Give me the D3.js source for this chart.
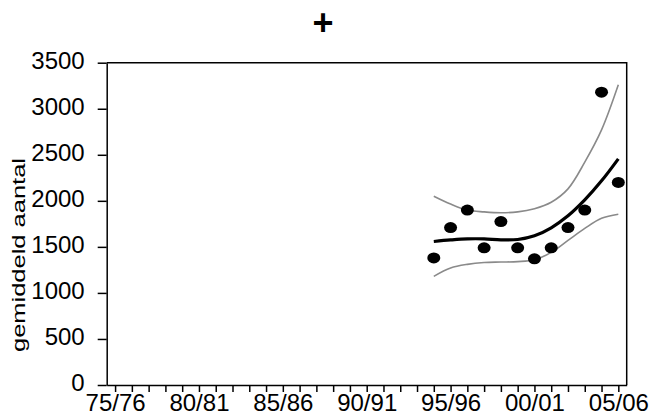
<!DOCTYPE html>
<html>
<head>
<meta charset="utf-8">
<script src="https://cdn.jsdelivr.net/npm/d3@7"></script>
<style>
  body { margin: 0; background: #fff; }
  text { font-family: "Liberation Sans", Arial, sans-serif; fill: #000; }
</style>
</head>
<body>
<div class="canvas"></div>
<script>
// seasons on the x axis (one tick per season, label every 5)
const seasons = ['75/76','76/77','77/78','78/79','79/80','80/81','81/82','82/83','83/84','84/85',
    '85/86','86/87','87/88','88/89','89/90','90/91','91/92','92/93','93/94','94/95',
    '95/96','96/97','97/98','98/99','99/00','00/01','01/02','02/03','03/04','04/05','05/06'];
const labelSeasons = ['75/76','80/81','85/86','90/91','95/96','00/01','05/06'];
const yTicks = [0, 500, 1000, 1500, 2000, 2500, 3000, 3500];

// observed seasons and values
const obsSeasons = ['94/95','95/96','96/97','97/98','98/99','99/00','00/01','01/02','02/03','03/04','04/05','05/06'];
const observed = [1380, 1710, 1900, 1490, 1775, 1490, 1370, 1490, 1710, 1900, 3180, 2200];
// fitted trend and confidence band
const trend = [1558, 1575, 1587, 1587, 1576, 1580, 1620, 1707, 1837, 2010, 2217, 2456];
const upper = [2050, 1965, 1900, 1880, 1870, 1880, 1915, 1985, 2130, 2420, 2770, 3260];
const lower = [1180, 1270, 1310, 1330, 1335, 1340, 1360, 1440, 1570, 1700, 1810, 1855];

const width = 655, height = 416;
const margin = {top: 62.7, right: 28.3, bottom: 31, left: 106.7};

const svg = d3.select('.canvas')
    .append('svg')
    .attr('width', width)
    .attr('height', height);

const x = d3.scalePoint()
    .domain(seasons)
    .range([margin.left, width - margin.right])
    .padding(0.5);

const y = d3.scaleLinear()
    .domain([0, 3500])
    .range([height - margin.bottom, margin.top]);

// frame (top + right)
svg.append('path')
    .attr('d', `M${margin.left},${margin.top}H${width - margin.right}V${height - margin.bottom}`)
    .attr('fill', 'none')
    .attr('stroke', '#000')
    .attr('stroke-width', 1.5);

// y axis
const yAxis = svg.append('g')
    .attr('transform', `translate(${margin.left},0)`)
    .call(d3.axisLeft(y).tickValues(yTicks).tickFormat(d3.format('d'))
        .tickSize(9).tickPadding(13).tickSizeOuter(0));
yAxis.select('.domain').attr('stroke-width', 1.5);
yAxis.selectAll('.tick line').attr('stroke-width', 1.5);
yAxis.selectAll('.tick text')
    .attr('font-size', 24)
    .attr('dy', 5.5)
    .attr('font-family', '"Liberation Sans", Arial, sans-serif');

// x axis
const xAxis = svg.append('g')
    .attr('transform', `translate(0,${height - margin.bottom})`)
    .call(d3.axisBottom(x).tickSize(7).tickPadding(1).tickSizeOuter(0)
        .tickFormat(d => labelSeasons.includes(d) ? d : ''));
xAxis.select('.domain').attr('stroke-width', 1.5);
xAxis.selectAll('.tick line').attr('stroke-width', 1.5);
xAxis.selectAll('.tick text')
    .attr('font-size', 24)
    .attr('dy', '0.74em')
    .attr('font-family', '"Liberation Sans", Arial, sans-serif');

// y title
svg.append('text')
    .attr('transform', 'translate(25,255) rotate(-90)')
    .attr('text-anchor', 'middle')
    .attr('font-size', 19)
    .attr('textLength', 194)
    .attr('lengthAdjust', 'spacingAndGlyphs')
    .text('gemiddeld aantal');

// title
svg.append('text')
    .attr('x', 323)
    .attr('y', 35)
    .attr('text-anchor', 'middle')
    .attr('font-size', 36)
    .attr('font-weight', 'bold')
    .text('+');

const line = vals => d3.line()
    .x((d, i) => x(obsSeasons[i]))
    .y(d => y(d))
    .curve(d3.curveCatmullRom)(vals);

svg.append('path').attr('d', line(upper))
    .attr('fill', 'none').attr('stroke', '#8a8a8a').attr('stroke-width', 1.6);
svg.append('path').attr('d', line(lower))
    .attr('fill', 'none').attr('stroke', '#8a8a8a').attr('stroke-width', 1.6);
svg.append('path').attr('d', line(trend))
    .attr('fill', 'none').attr('stroke', '#000').attr('stroke-width', 3.2);

svg.selectAll('ellipse').data(observed).join('ellipse')
    .attr('cx', (d, i) => x(obsSeasons[i]))
    .attr('cy', d => y(d))
    .attr('rx', 6.5)
    .attr('ry', 5.5)
    .attr('fill', '#000');
</script>
</body>
</html>
